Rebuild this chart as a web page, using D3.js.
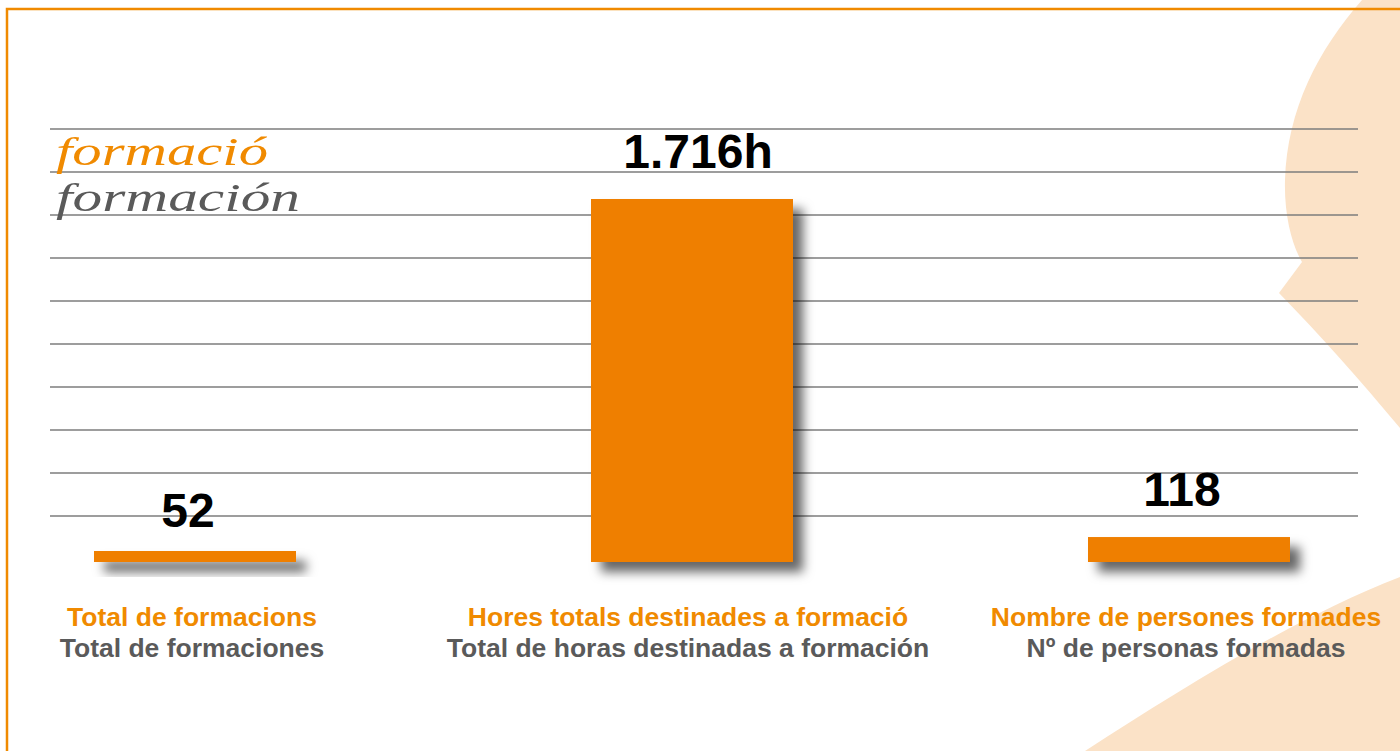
<!DOCTYPE html>
<html>
<head>
<meta charset="utf-8">
<script src="https://cdn.jsdelivr.net/npm/d3@7"></script>
<style>
  html, body { margin: 0; padding: 0; background: #fff; }
  svg { display: block; }
</style>
</head>
<body>
<svg width="1400" height="751"></svg>
<script>
// data
const categories = ["formacions", "hores", "persones"];
const values = [52, 1716, 118];
const valueLabels = ["52", "1.716h", "118"];
const labelsCa = ["Total de formacions", "Hores totals destinades a formació", "Nombre de persones formades"];
const labelsEs = ["Total de formaciones", "Total de horas destinadas a formación", "Nº de personas formadas"];
const ruleLines = d3.range(10);

const orange = "#ef7f00",
      textOrange = "#f08a00",
      grey = "#5a5a5a",
      beige = "#fbe2c7";

const svg = d3.select("svg"),
      width = +svg.attr("width"),
      height = +svg.attr("height");

// shadow filter
const defs = svg.append("defs");
const shadow = defs.append("filter")
    .attr("id", "shadow")
    .attr("x", "-20%").attr("y", "-20%")
    .attr("width", "150%").attr("height", "250%");
shadow.append("feDropShadow")
    .attr("dx", 10).attr("dy", 10)
    .attr("stdDeviation", 5.5)
    .attr("flood-color", "#000")
    .attr("flood-opacity", 0.6);

// background beige shapes
svg.append("path")
    .attr("fill", beige)
    .attr("d", "M1362,0 C1318,50 1287,110 1285,180 C1284,215 1292,245 1302,262 L1279,293 C1320,335 1360,380 1400,428 L1400,0 Z");
svg.append("path")
    .attr("fill", beige)
    .attr("d", "M1085,751 C1180,690 1290,620 1400,577 L1400,751 Z");

// frame
svg.append("path")
    .attr("fill", "none")
    .attr("stroke", textOrange)
    .attr("stroke-width", 2.5)
    .attr("d", `M7,${height} L7,9 L${width},9`);

// scales
const x = d3.scalePoint()
    .domain(categories)
    .range([195, 1189]);

const barWidth = 202;

const y = d3.scaleLinear()
    .domain([0, 1716])
    .range([562, 199]);

const lineY = d3.scaleLinear()
    .domain([0, 9])
    .range([129, 516]);

// ruled lines
svg.append("g")
    .selectAll("line")
    .data(ruleLines)
    .enter().append("line")
    .attr("x1", 50)
    .attr("x2", 1358)
    .attr("y1", d => lineY(d))
    .attr("y2", d => lineY(d))
    .attr("stroke", "#7c7c7c")
    .attr("stroke-width", 1.3);

// title
const title = svg.append("g")
    .style("font-family", "'Liberation Serif', serif")
    .style("font-style", "italic")
    .style("font-size", "40px");
title.append("text")
    .attr("x", 56).attr("y", 165)
    .attr("fill", textOrange)
    .attr("textLength", 212)
    .attr("lengthAdjust", "spacingAndGlyphs")
    .text("formació");
title.append("text")
    .attr("x", 56).attr("y", 211)
    .attr("fill", grey)
    .attr("textLength", 244)
    .attr("lengthAdjust", "spacingAndGlyphs")
    .text("formación");

// bars
const data = categories.map((c, i) => ({c, v: values[i], label: valueLabels[i], ca: labelsCa[i], es: labelsEs[i]}));

svg.append("g")
    .selectAll("rect")
    .data(data)
    .enter().append("rect")
    .attr("x", d => x(d.c) - barWidth / 2)
    .attr("y", d => y(d.v))
    .attr("width", barWidth)
    .attr("height", d => y(0) - y(d.v))
    .attr("fill", orange)
    .attr("filter", "url(#shadow)");

// value labels
svg.append("g")
    .selectAll("text")
    .data(data)
    .enter().append("text")
    .attr("x", d => x(d.c) + (d.c === "hores" ? 6 : -7))
    .attr("y", d => y(d.v) - (d.v < 100 ? 24 : 31))
    .attr("text-anchor", "middle")
    .attr("fill", "#000")
    .style("font-family", "'Liberation Sans', Arial, sans-serif")
    .style("font-weight", "bold")
    .style("font-size", "48px")
    .text(d => d.label);

// category labels
const cat = svg.append("g")
    .style("font-family", "'Liberation Sans', Arial, sans-serif")
    .style("font-weight", "bold")
    .style("font-size", "26.5px")
    .attr("text-anchor", "middle");

cat.selectAll("text.ca")
    .data(data)
    .enter().append("text")
    .attr("class", "ca")
    .attr("x", d => x(d.c) + (d.c === "hores" ? -4 : -3))
    .attr("y", 626)
    .attr("fill", textOrange)
    .text(d => d.ca);

cat.selectAll("text.es")
    .data(data)
    .enter().append("text")
    .attr("class", "es")
    .attr("x", d => x(d.c) + (d.c === "hores" ? -4 : -3))
    .attr("y", 657)
    .attr("fill", grey)
    .text(d => d.es);
</script>
</body>
</html>
